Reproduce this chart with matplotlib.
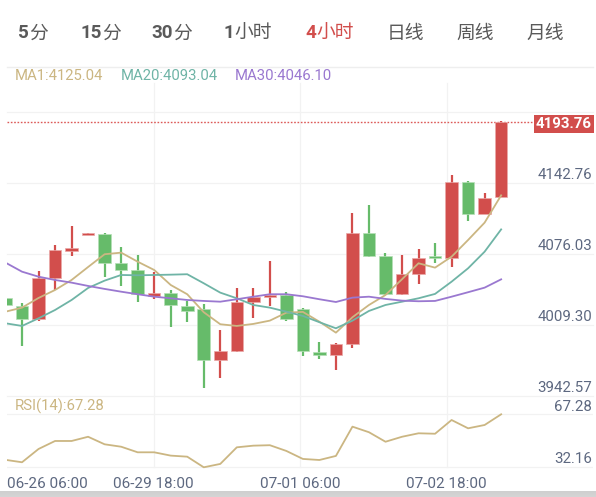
import matplotlib
matplotlib.use("Agg")
import matplotlib.pyplot as plt
import matplotlib.transforms as mtransforms
from matplotlib.lines import Line2D
import numpy as np

# ---------------- data ----------------
tabs = ["5分", "15分", "30分", "1小时", "4小时", "日线", "周线", "月线"]
active_tab = "4小时"

opens = [4028.6, 4021.4, 4008.9, 4047.4, 4072.8, 4087.8, 4088.7, 4061.5, 4054.9, 4030.5,
         4033.3, 4021.1, 4018.3, 3970.3, 3978.8, 4024.8, 4029.6, 4031.4, 4018.3, 3977.9,
         3975.0, 3985.4, 4089.7, 4068.1, 4032.4, 4051.2, 4068.1, 4066.2, 4137.6, 4107.5, 4123.5]
highs = [4029.5, 4023.9, 4054.0, 4078.4, 4096.3, 4089.7, 4089.7, 4076.5, 4069.0, 4053.0,
         4036.1, 4025.8, 4023.0, 3998.5, 4038.0, 4038.0, 4063.4, 4034.2, 4019.2, 3987.2,
         3986.3, 4108.5, 4116.0, 4070.9, 4069.0, 4074.6, 4080.3, 4144.2, 4138.5, 4127.3, 4194.6]
lows = [4020.5, 3983.5, 4007.0, 4036.1, 4068.1, 4087.8, 4048.4, 4039.9, 4024.8, 4027.7,
        4001.3, 4006.1, 3944.0, 3953.4, 3977.9, 4009.8, 4021.1, 4007.0, 3974.1, 3971.3,
        3960.9, 3981.6, 4067.1, 4031.4, 4031.4, 4041.7, 4061.5, 4057.7, 4100.9, 4107.5, 4123.5]
closes = [4022.0, 4008.6, 4047.4, 4073.7, 4075.6, 4089.7, 4061.5, 4054.9, 4032.4, 4033.3,
          4022.0, 4016.4, 3970.3, 3978.8, 4024.8, 4029.6, 4031.4, 4008.9, 3978.8, 3975.0,
          3985.4, 4089.7, 4068.1, 4032.4, 4051.2, 4066.2, 4066.2, 4137.6, 4107.5, 4122.6, 4193.76]

ma1 = [4015.7, 4019.5, 4028.6, 4036.1, 4045.5, 4057.7, 4069.7, 4071.2, 4062.7, 4054.9,
       4040.8, 4032.1, 4015.2, 4003.9, 4002.3, 4004.2, 4007.3, 4014.8, 4015.5, 4006.3,
       3996.0, 4010.5, 4022.0, 4031.4, 4046.2, 4061.2, 4057.1, 4067.4, 4083.1, 4099.4, 4125.04]
ma20 = [4004.8, 4002.3, 4009.5, 4017.3, 4026.7, 4038.0, 4044.9, 4050.2, 4049.9, 4050.2,
        4050.5, 4050.9, 4042.4, 4033.6, 4028.3, 4022.0, 4019.5, 4015.7, 4011.7, 4005.8,
        4000.1, 4007.3, 4016.4, 4022.0, 4025.1, 4028.3, 4032.4, 4043.9, 4056.5, 4072.1, 4093.04]
ma30 = [4061.8, 4053.3, 4048.6, 4045.5, 4043.0, 4039.9, 4037.1, 4034.5, 4032.1, 4029.8,
        4028.3, 4026.7, 4025.8, 4025.1, 4027.4, 4029.8, 4032.1, 4032.1, 4030.2, 4027.4,
        4024.8, 4028.9, 4029.8, 4027.7, 4026.1, 4025.5, 4025.8, 4029.8, 4034.0, 4038.3, 4046.10]
rsi = [37.1, 35.5, 44.3, 49.6, 49.6, 52.4, 47.4, 45.8, 42.1, 42.1,
       39.9, 39.2, 32.16, 34.4, 45.4, 46.5, 46.8, 43.0, 37.7, 37.0,
       39.7, 59.1, 55.4, 49.1, 52.4, 54.7, 54.4, 63.5, 58.0, 60.2, 67.28]

price_ticks = [3942.57, 4009.30, 4076.03, 4142.76]
price_ticks_text = ["3942.57", "4009.30", "4076.03", "4142.76"]
rsi_ticks = [32.16, 67.28]
rsi_ticks_text = ["32.16", "67.28"]
date_labels = ["06-26 06:00", "06-29 18:00", "07-01 06:00", "07-02 18:00"]
legend_items = [("MA1:4125.04", "ma1"), ("MA20:4093.04", "ma20"), ("MA30:4046.10", "ma30")]
rsi_legend = "RSI(14):67.28"
last_price_text = "4193.76"

# ---------------- style ----------------
W, H, DPI = 596, 497, 100
RED = "#d24e4c"
GREEN = "#66bb6a"
C_MA1 = "#cbb682"
C_MA20 = "#6fb4a6"
C_MA30 = "#9a78d0"
AXIS_TXT = "#5d6880"
GRID = "#f2f2f2"
FONT = ["Roboto", "DejaVu Sans"]
CJK = ["Noto Sans CJK SC", "DejaVu Sans"]

fig = plt.figure(figsize=(W / DPI, H / DPI), dpi=DPI)
fig.patch.set_facecolor("white")
renderer = fig.canvas.get_renderer()


def px_axes(x0, y0, x1, y1):
    return fig.add_axes([x0 / W, 1 - y1 / H, (x1 - x0) / W, (y1 - y0) / H])


def fig_y(py):
    return 1 - py / H


# tabs: digits in bold Roboto, Chinese part in regular CJK font
tab_x = [33, 101, 172, 248, 330, 405, 475, 545]
for t, cx in zip(tabs, tab_x):
    col = RED if t == active_tab else "#5a5a5a"
    num = "".join(ch for ch in t if ch.isdigit())
    rest = t[len(num):]
    parts = []
    if num:
        parts.append(fig.text(0, fig_y(33), num, ha="left", va="center", fontsize=13.5,
                              family=FONT, fontweight="bold", color=col))
    parts.append(fig.text(0, fig_y(33), rest, ha="left", va="center", fontsize=13.5,
                          family=CJK, color=col))
    widths = [p.get_window_extent(renderer).width for p in parts]
    start = cx - sum(widths) / 2
    for p, w in zip(parts, widths):
        p.set_x(start / W)
        start += w

# separator under tabs
fig.add_artist(Line2D([7 / W, 593 / W], [fig_y(67), fig_y(67)], color="#eeeeee", lw=1))

LEFT, RIGHT = 7.3, 593.0
x = np.arange(len(closes))
xl = (0.109, 35.56)

# ---------------- main chart ----------------
ax = px_axes(LEFT, 67, RIGHT, 396)
ax.set_xlim(*xl)
ax.set_ylim(3936.46, 4245.67)
ax.axis("off")

# horizontal grid (lines sit slightly below their values in the source app)
step = price_ticks[1] - price_ticks[0]
grid_vals = price_ticks + [price_ticks[-1] + step]
gtrans = mtransforms.offset_copy(ax.get_yaxis_transform(), fig=fig, x=0, y=-6.5, units="dots")
for v in grid_vals:
    ax.plot([0, 1], [v, v], transform=gtrans, color=GRID, lw=0.9, clip_on=False, zorder=0)

# vertical grid
fracs = [0.25, 0.5, 0.75]
for f in fracs:
    ax.plot([f, f], [0, (396 - 83) / (396 - 67)], transform=ax.transAxes,
            color=GRID, lw=0.9, zorder=0)

colors = [RED if c >= o else GREEN for o, c in zip(opens, closes)]
body_lo = [min(o, c) for o, c in zip(opens, closes)]
body_h = [max(abs(c - o), 1.6) for o, c in zip(opens, closes)]
ax.vlines(x, lows, highs, colors=colors, lw=1.6, zorder=2)
ax.bar(x, body_h, bottom=body_lo, width=0.76, color=colors, zorder=3,
       edgecolor=[("#eaa9a8" if c == RED else "#b5e0b6") for c in colors], linewidth=0.5)

ax.plot(x, ma1, color=C_MA1, lw=1.3, zorder=4)
ax.plot(x, ma20, color=C_MA20, lw=1.3, zorder=4)
ax.plot(x, ma30, color=C_MA30, lw=1.3, zorder=4)

# last price line + label
last = closes[-1]
ax.axhline(last, xmin=0, xmax=(537 - LEFT) / (RIGHT - LEFT), color="#dc5a58",
           lw=1.0, ls=(0, (1.2, 1.2)), zorder=1)
ax.text((592 - LEFT) / (RIGHT - LEFT), last, last_price_text, transform=ax.get_yaxis_transform(),
        ha="right", va="center_baseline", fontsize=10.8, family=FONT, fontweight="bold",
        color="white", zorder=6,
        bbox=dict(boxstyle="square,pad=0.12", fc=RED, ec="none"))

# price axis labels
ltrans = mtransforms.offset_copy(ax.get_yaxis_transform(), fig=fig, x=0, y=3, units="dots")
for v, s in zip(price_ticks, price_ticks_text):
    ax.text((592 - LEFT) / (RIGHT - LEFT), v, s, transform=ltrans, ha="right",
            va="center_baseline", fontsize=10.8, family=FONT, color=AXIS_TXT, zorder=5)

# legend
leg_x = [15, 121, 235]
leg_c = {"ma1": C_MA1, "ma20": C_MA20, "ma30": C_MA30}
for (s, k), lx in zip(legend_items, leg_x):
    fig.text(lx / W, fig_y(75), s, ha="left", va="center_baseline", fontsize=10.7,
             family=FONT, color=leg_c[k])

# ---------------- RSI ----------------
ax2 = px_axes(LEFT, 396, RIGHT, 470)
ax2.set_xlim(*xl)
ax2.set_ylim(30.37, 79.41)
ax2.axis("off")
for v in rsi_ticks:
    ax2.plot([0, 1], [v, v], transform=ax2.get_yaxis_transform(), color=GRID, lw=0.9, zorder=0)
for f in fracs:
    ax2.plot([f, f], [(32.16 - 30.37) / (79.41 - 30.37), 1], transform=ax2.transAxes,
             color=GRID, lw=0.9, zorder=0)
ax2.plot(x, rsi, color=C_MA1, lw=1.3, zorder=3)
rtrans = mtransforms.offset_copy(ax2.get_yaxis_transform(), fig=fig, x=0, y=9.3, units="dots")
for v, s in zip(rsi_ticks, rsi_ticks_text):
    ax2.text((592 - LEFT) / (RIGHT - LEFT), v, s, transform=rtrans, ha="right",
             va="center_baseline", fontsize=10.8, family=FONT, color=AXIS_TXT)
fig.text(15 / W, fig_y(405), rsi_legend, ha="left", va="center_baseline", fontsize=10.7,
         family=FONT, color=C_MA1)

# date labels
date_fracs = [0.0] + fracs
for f, s in zip(date_fracs, date_labels):
    px = LEFT + f * (RIGHT - LEFT)
    fig.text(px / W, fig_y(482), s, ha="left" if f == 0 else "center", va="center_baseline",
             fontsize=11, family=FONT, color=AXIS_TXT)

# faint bottom shadow
shade = fig.add_axes([0, 0, 1, 6 / H])
shade.imshow(np.linspace(1, 0, 20).reshape(-1, 1), cmap="Greys", vmin=-10, vmax=10,
             aspect="auto", extent=[0, 1, 0, 1], alpha=0.4)
shade.axis("off")

fig.savefig("out.png", dpi=DPI, facecolor="white")
